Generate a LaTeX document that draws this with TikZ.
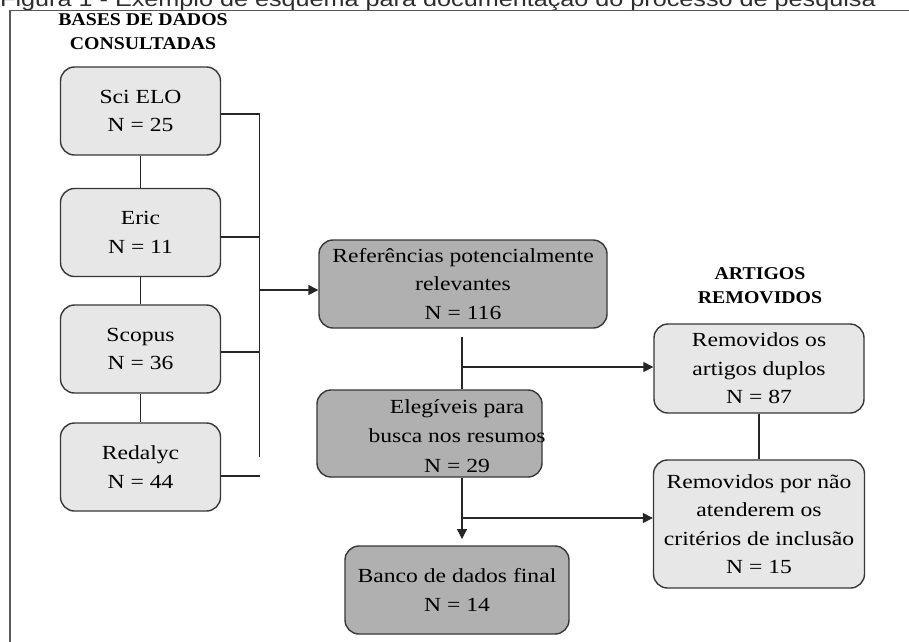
\documentclass[tikz,border=0pt]{standalone}
\usepackage{fontspec}
\setmainfont{Liberation Serif}[FakeStretch=1.18]
\newfontfamily\hdfont{Liberation Serif}[FakeStretch=1.1]
\newfontfamily\capfont{Liberation Sans}[FakeStretch=1.2]
\usetikzlibrary{arrows.meta}
\definecolor{lightbox}{RGB}{231,231,231}
\definecolor{darkbox}{RGB}{176,176,176}
\definecolor{edge}{RGB}{55,55,55}
\definecolor{captext}{RGB}{45,45,45}
\begin{document}
\begin{tikzpicture}[x=1pt,y=-1pt,
  box/.style={draw=edge, line width=1.4pt, rounded corners=14pt, align=center, inner sep=0pt,
              font=\fontsize{20}{28.5}\selectfont},
  lbox/.style={box, fill=lightbox},
  dbox/.style={box, fill=darkbox},
  conn/.style={draw=black!85, line width=1.4pt},
  arr/.style={conn, -{Triangle[length=10pt,width=10pt]}},
  head/.style={font=\hdfont\bfseries\fontsize{18}{24}\selectfont, align=center, inner sep=0pt},
  txt/.style={align=center, inner sep=0pt, font=\fontsize{20}{29.5}\selectfont}
]
\useasboundingbox (0,0) rectangle (909,641);
\clip (0,0) rectangle (909,641);
\fill[white] (0,0) rectangle (909,641);

% caption (cut at the top) and frame
\node[anchor=base west, inner sep=0pt, text=captext, font=\capfont\fontsize{21}{24}\selectfont] (caption) at (0,6)
  {Figura 1 - Exemplo de esquema para documentação do processo de pesquisa};
\draw[draw=black!65, line width=1.5pt] (10,645) -- (10,10.5) -- (912,10.5);

% headings
\node[head] (hbases) at (143,32) {BASES DE DADOS\\CONSULTADAS};
\node[head] (hartigos) at (760,286) {ARTIGOS\\REMOVIDOS};

% database boxes
\node[lbox, minimum width=160, minimum height=88] (sci) at (140.5,111) {Sci ELO\\N = 25};
\node[lbox, minimum width=160, minimum height=88] (eric) at (140.5,232.5) {Eric\\N = 11};
\node[lbox, minimum width=160, minimum height=88] (scopus) at (140.5,349) {Scopus\\N = 36};
\node[lbox, minimum width=160, minimum height=88] (redalyc) at (140.5,467) {Redalyc\\N = 44};

% central boxes
\node[dbox, minimum width=288, minimum height=88] (ref) at (463,284) {Referências potencialmente\\relevantes\\N = 116};
\node[dbox, minimum width=225, minimum height=87] (elig) at (429.5,433.5) {};
\node[txt] (eligtxt) at (457,436) {Elegíveis para\\busca nos resumos\\N = 29};
\node[dbox, minimum width=224, minimum height=88] (banco) at (457,590) {Banco de dados final\\N = 14};

% removed boxes
\node[lbox, minimum width=210, minimum height=89] (dup) at (759,368.5) {Removidos os\\artigos duplos\\N = 87};
\node[lbox, minimum width=211, minimum height=128] (crit) at (759,524) {Removidos por não\\atenderem os\\critérios de inclusão\\N = 15};

% left column connectors
\draw[conn] (sci.south) -- (eric.north);
\draw[conn] (eric.south) -- (scopus.north);
\draw[conn] (scopus.south) -- (redalyc.north);

% bus
\coordinate (bustop) at (259.5,114);
\coordinate (busbot) at (259.5,457);
\coordinate (jeric) at (259.5,237);
\coordinate (jscop) at (259.5,352);
\coordinate (jref) at (259.5,290);
\coordinate (jred) at (260,476);
\draw[conn] (sci.east |- bustop) -- (bustop) -- (busbot);
\draw[conn] (eric.east |- jeric) -- (jeric);
\draw[conn] (scopus.east |- jscop) -- (jscop);
\draw[conn] (redalyc.east |- jred) -- (jred);
\draw[arr] (jref) -- (ref.west |- jref);

% central flow
\coordinate (r1) at (462,337);
\coordinate (r2) at (462,367);
\draw[conn] (r1) -- (r1 |- elig.north);
\draw[arr] (r2) -- (dup.west |- r2);
\coordinate (e1) at (462,518);
\coordinate (e2) at (462,539);
\draw[arr] (e1 |- elig.south) -- (e2);
\draw[arr] (e1) -- (crit.west |- e1);

% removed column connector
\draw[conn] (dup.south) -- (crit.north);
\end{tikzpicture}
\end{document}
